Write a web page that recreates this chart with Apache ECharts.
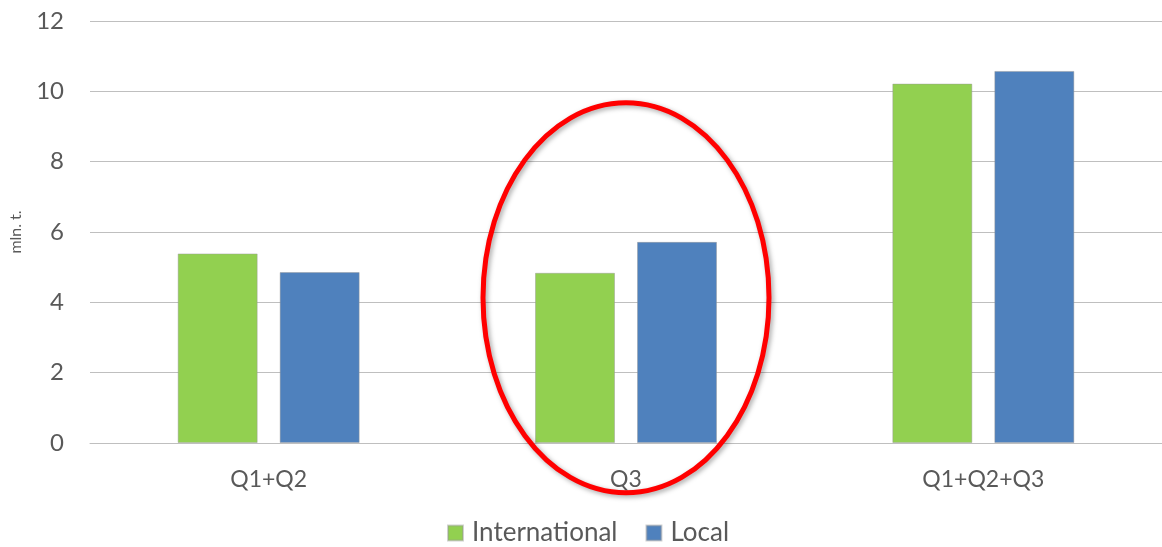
<!DOCTYPE html>
<html>
<head>
<meta charset="utf-8">
<style>html,body{margin:0;padding:0;background:#fff;}#c{width:1162px;height:547px;}</style>
<script src="https://cdn.jsdelivr.net/npm/echarts@6/dist/echarts.min.js"></script>
</head>
<body>
<div id="c"></div>
<script>
var categories = ['Q1+Q2', 'Q3', 'Q1+Q2+Q3'];
var international = [5.39, 4.84, 10.22];
var local = [4.86, 5.72, 10.58];
var yTicks = [0, 2, 4, 6, 8, 10, 12];

var FONT = 'Lato';
var TXT = '#595959';
var chart = echarts.init(document.getElementById('c'), null, {renderer: 'canvas'});
chart.setOption({
  animation: false,
  backgroundColor: '#ffffff',
  grid: {left: 90, width: 1078, top: 21, height: 422, containLabel: false},
  legend: {
    top: 515, left: 442,
    itemWidth: 15, itemHeight: 15, itemGap: 28,
    icon: 'rect',
    textStyle: {fontFamily: FONT, fontSize: 26, color: TXT, padding: [0, 0, 0, 4]},
    data: ['International', 'Local']
  },
  xAxis: {
    type: 'category', data: categories,
    axisLine: {show: true, lineStyle: {color: '#bfbfbf', width: 1}},
    axisTick: {show: false},
    axisLabel: {fontFamily: FONT, fontSize: 23, color: TXT, margin: 25}
  },
  yAxis: {
    type: 'value', min: yTicks[0], max: yTicks[yTicks.length - 1], interval: 2,
    name: 'mln. t.', nameLocation: 'middle', nameGap: 66, nameRotate: 90,
    nameTextStyle: {fontFamily: FONT, fontSize: 16, color: TXT},
    axisLine: {show: false}, axisTick: {show: false},
    axisLabel: {fontFamily: FONT, fontSize: 24, color: TXT, margin: 26},
    splitLine: {lineStyle: {color: '#bfbfbf', width: 1}}
  },
  series: [
    {name: 'International', type: 'bar', data: international, barWidth: 80, barGap: '27.5%',
     itemStyle: {color: '#92d050', borderColor: 'rgba(150,150,150,0.45)', borderWidth: 1}},
    {name: 'Local', type: 'bar', data: local, barWidth: 80,
     itemStyle: {color: '#4f81bd', borderColor: 'rgba(150,150,150,0.45)', borderWidth: 1}}
  ]
});

// red highlight ellipse around Q3
var cx = chart.convertToPixel({xAxisIndex: 0}, 'Q3');
var cy = chart.convertToPixel({yAxisIndex: 0}, 4.13);
chart.setOption({
  graphic: [{
    type: 'ellipse', z: 100,
    shape: {cx: cx, cy: cy, rx: 143, ry: 195},
    style: {fill: 'none', stroke: '#ff0000', lineWidth: 5,
            shadowBlur: 5, shadowColor: 'rgba(0,0,0,0.35)', shadowOffsetX: 2, shadowOffsetY: 2}
  }]
});
</script>
</body>
</html>
